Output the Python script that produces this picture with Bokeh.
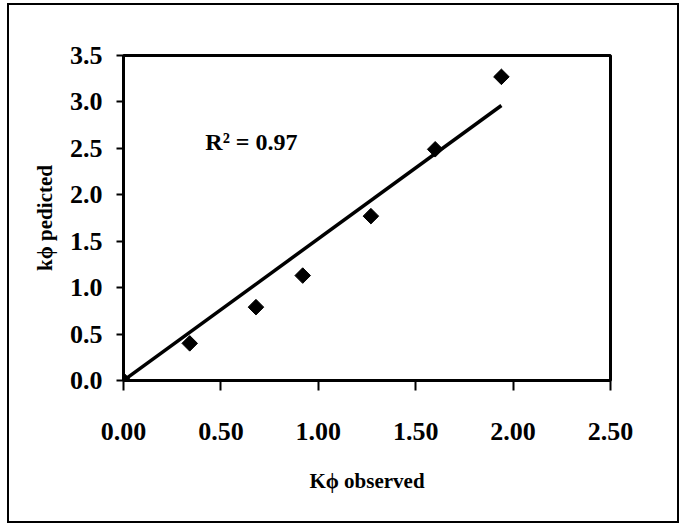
import numpy as np
from bokeh.plotting import figure
from bokeh.models import Range1d, FixedTicker, PrintfTickFormatter, Label, ColumnDataSource
from bokeh.embed import file_html
from bokeh.resources import INLINE

# ---- data ----
k_observed = [0.0, 0.34, 0.68, 0.92, 1.27, 1.60, 1.94]
k_predicted = [0.0, 0.40, 0.79, 1.13, 1.77, 2.49, 3.27]
x_ticks = [0.0, 0.5, 1.0, 1.5, 2.0, 2.5]
y_ticks = [0.0, 0.5, 1.0, 1.5, 2.0, 2.5, 3.0, 3.5]
r2_text = "R\u00b2 = 0.97"
x_title = "K\u03d5 observed"
y_title = "k\u03d5 pedicted"

# regression through origin
xa = np.array(k_observed)
ya = np.array(k_predicted)
slope = float((xa * ya).sum() / (xa * xa).sum())
fit_x = [0.0, float(xa.max())]
fit_y = [slope * v for v in fit_x]

FONT = "Liberation Serif"

p = figure(width=672, height=520, output_backend="svg", toolbar_location=None,
           x_range=Range1d(0, 2.5), y_range=Range1d(0, 3.5),
           min_border_left=114, min_border_right=71, min_border_top=50, min_border_bottom=145,
           styles={"border": "2px solid black", "margin-left": "7px", "margin-top": "3px"})
p.grid.visible = False
p.outline_line_color = "black"
p.outline_line_width = 3
p.outline_line_alpha = 1.0

for ax, ticks, fmt in ((p.xaxis[0], x_ticks, "%.2f"), (p.yaxis[0], y_ticks, "%.1f")):
    ax.ticker = FixedTicker(ticks=ticks)
    ax.formatter = PrintfTickFormatter(format=fmt)
    ax.axis_line_width = 3
    ax.axis_line_color = "black"
    ax.major_tick_line_width = 2
    ax.major_tick_line_color = "black"
    ax.major_tick_in = 0
    ax.minor_tick_line_color = None
    ax.major_label_text_font = FONT
    ax.major_label_text_font_style = "bold"
    ax.major_label_text_font_size = "26px"
    ax.major_label_text_color = "black"
    ax.axis_label_text_font = FONT
    ax.axis_label_text_font_style = "bold"
    ax.axis_label_text_font_size = "21px"
    ax.axis_label_text_color = "black"

p.xaxis.major_tick_out = 10
p.xaxis.major_label_standoff = 32
p.xaxis.axis_label = x_title
p.xaxis.axis_label_standoff = 26
p.yaxis.major_tick_out = 7
p.yaxis.major_label_standoff = 14
p.yaxis.axis_label = y_title
p.yaxis.axis_label_standoff = 10

p.line(fit_x, fit_y, line_color="black", line_width=3.5)
src = ColumnDataSource(dict(x=k_observed, y=k_predicted))
p.scatter("x", "y", source=src, marker="square", angle=np.pi / 4, size=11,
          fill_color="black", line_color="black")

p.add_layout(Label(x=0.42, y=2.57, text=r2_text, text_font=FONT, text_font_style="bold",
                   text_font_size="24px", text_color="black", text_baseline="alphabetic"))

open("out.html", "w").write(file_html(p, INLINE))
